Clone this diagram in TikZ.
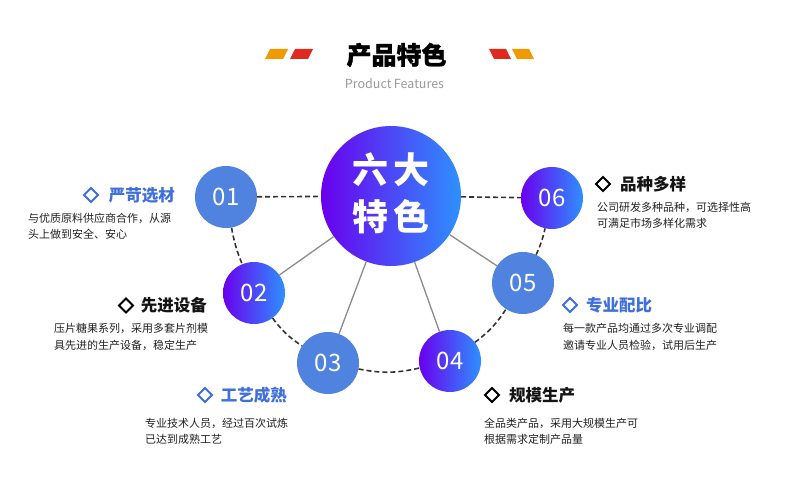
\documentclass[tikz,border=0pt]{standalone}
\usepackage{fontspec}
\setmainfont{Noto Sans CJK SC}
\newfontfamily\heavy[BoldFeatures={FakeBold=1.2}]{Noto Sans CJK SC}
\definecolor{purp}{HTML}{6A00EE}
\definecolor{blu}{HTML}{2E90FF}
\definecolor{solidb}{HTML}{5082E0}
\definecolor{hblue}{HTML}{3F6FDC}
\definecolor{org}{HTML}{F09A00}
\definecolor{rd}{HTML}{E02A1E}
\definecolor{bodyc}{HTML}{222222}
\tikzset{
  gradc/.style={circle, inner sep=0pt, left color=purp, right color=blu, text=white},
  smallc/.style={circle, minimum size=62pt, inner sep=0pt, text=white, font=\fontsize{24}{24}\selectfont},
  solidc/.style={smallc, fill=solidb},
  gsmall/.style={smallc, left color=purp, right color=blu},
  grayline/.style={draw=black!45, line width=1.3pt},
  dashline/.style={draw=black!80, line width=1.6pt, dash pattern=on 5pt off 3pt},
  headb/.style={font=\fontsize{16.5}{18}\selectfont\bfseries, text=hblue, inner sep=0pt},
  headk/.style={font=\fontsize{16.5}{18}\selectfont\bfseries, text=black!92, inner sep=0pt},
  diam/.style={draw, line width=1.9pt, minimum width=10pt, minimum height=10pt, inner sep=0pt, rotate=45},
  bodytext/.style={font=\fontsize{11}{16.3}\selectfont, text=bodyc, align=left, inner sep=0pt, anchor=west},
}
\begin{document}
\begin{tikzpicture}[x=1pt,y=-1pt]
\fill[white] (0,0) rectangle (790,478);
\useasboundingbox (0,0) rectangle (790,478);
% title decorations
\fill[org] (265,59) -- (270,49) -- (288,49) -- (283,59) -- cycle;
\fill[rd] (290,59) -- (295,49) -- (313,49) -- (308,59) -- cycle;
\fill[rd] (494,59) -- (489,49) -- (506,49) -- (511,59) -- cycle;
\fill[org] (517,59) -- (512,49) -- (529,49) -- (534,59) -- cycle;
\node[font=\fontsize{25}{25}\selectfont\heavy\bfseries, inner sep=0pt] (title) at (396.5,55) {产品特色};
\node[font=\fontsize{12.5}{13}\selectfont, text=black!40, inner sep=0pt] (sub) at (394.5,84) {Product\hspace{2.5pt}Features};
% circles
\node[gradc, minimum size=140pt] (c) at (391,196) {};
\node[text=white, align=center, font=\fontsize{36}{46.5}\selectfont\bfseries, inner sep=0pt] (ct) at (391,193.5) {六\hspace{6pt}大\\特\hspace{6pt}色};
\node[solidc] (n1) at (226,197) {01};
\node[gsmall] (n2) at (254,293) {02};
\node[solidc] (n3) at (328,363) {03};
\node[gsmall] (n4) at (450,361) {04};
\node[solidc] (n5) at (523,283) {05};
\node[gsmall] (n6) at (552,198) {06};
% connectors
\draw[grayline] (c) -- (n2);
\draw[grayline] (c) -- (n3);
\draw[grayline] (c) -- (n4);
\draw[grayline] (c) -- (n5);
\draw[dashline] (n1) -- (c);
\draw[dashline] (c) -- (n6);
\draw[dashline] (n1) to[bend right=6] (n2);
\draw[dashline] (n2) to[bend right=10] (n3);
\draw[dashline] (n3) to[bend right=12] (n4);
\draw[dashline] (n4) to[bend right=10] (n5);
\draw[dashline] (n5) to[bend right=6] (n6);
% labels
\node[headb, anchor=east] (h1) at (175,195) {严苛选材};
\node[diam, draw=hblue] (d1) at (91,195) {};
\node[bodytext] (b1) at (28,226.5) {与优质原料供应商合作，从源\\头上做到安全、安心};
\node[headk, anchor=east] (h2) at (207,305.5) {先进设备};
\node[diam, draw=black] (d2) at (126,305.5) {};
\node[bodytext] (b2) at (54,337) {压片糖果系列，采用多套片剂模\\具先进的生产设备，稳定生产};
\node[headb, anchor=east] (h3) at (287,395) {工艺成熟};
\node[diam, draw=hblue] (d3) at (205,395) {};
\node[bodytext] (b3) at (145,431) {专业技术人员，经过百次试炼\\已达到成熟工艺};
\node[headk, anchor=west] (h4) at (509,395) {规模生产};
\node[diam, draw=black] (d4) at (492,395) {};
\node[bodytext] (b4) at (484,431) {全品类产品，采用大规模生产可\\根据需求定制产品量};
\node[headb, anchor=west] (h5) at (586,305) {专业配比};
\node[diam, draw=hblue] (d5) at (570,305) {};
\node[bodytext] (b5) at (563,337) {每一款产品均通过多次专业调配\\邀请专业人员检验，试用后生产};
\node[headk, anchor=west] (h6) at (620,184) {品种多样};
\node[diam, draw=black] (d6) at (603,184) {};
\node[bodytext] (b6) at (597,215.3) {公司研发多种品种，可选择性高\\可满足市场多样化需求};
\end{tikzpicture}
\end{document}
